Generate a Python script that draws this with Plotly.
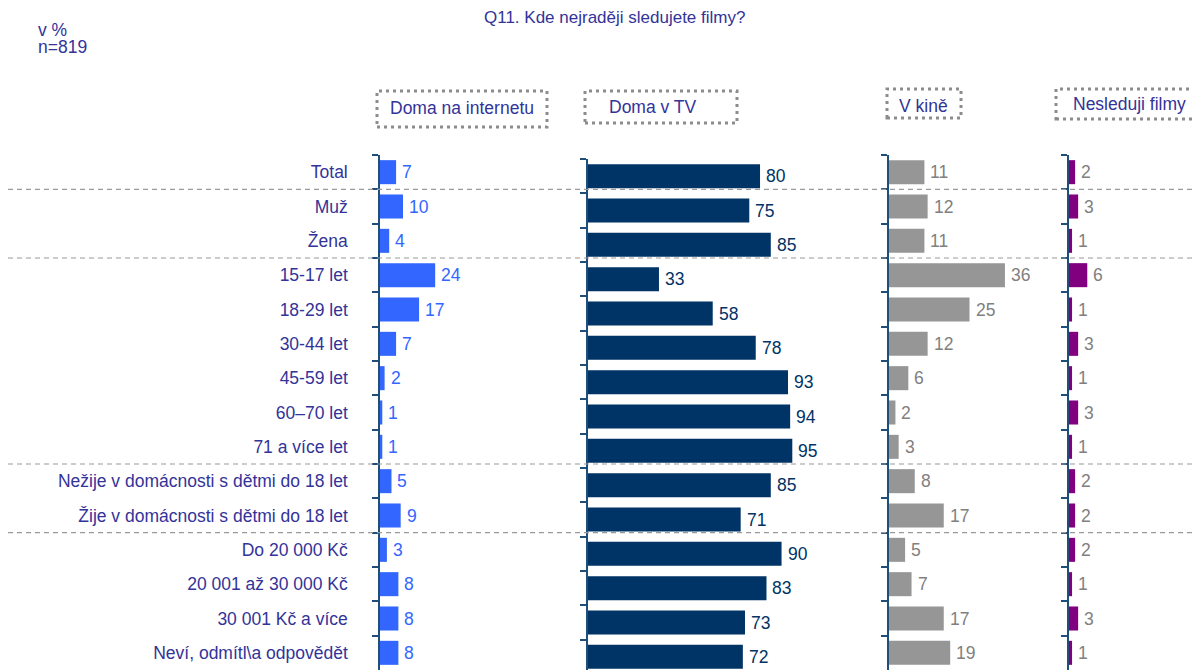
import plotly.graph_objects as go

# page offset: the browser page keeps an 8px body margin around the figure
OFF = 8
PAGE_W, PAGE_H = 1201, 670
W, H = PAGE_W - OFF, PAGE_H - OFF

categories = [
    "Total", "Muž", "Žena", "15-17 let", "18-29 let", "30-44 let", "45-59 let",
    "60–70 let", "71 a více let", "Nežije v domácnosti s dětmi do 18 let",
    "Žije v domácnosti s dětmi do 18 let", "Do 20 000 Kč", "20 001 až 30 000 Kč",
    "30 001 Kč a více", "Neví, odmítl\\a odpovědět",
]
series_names = ["Doma na internetu", "Doma v TV", "V kině", "Nesleduji filmy"]
internet = [7, 10, 4, 24, 17, 7, 2, 1, 1, 5, 9, 3, 8, 8, 8]
tv = [80, 75, 85, 33, 58, 78, 93, 94, 95, 85, 71, 90, 83, 73, 72]
kino = [11, 12, 11, 36, 25, 12, 6, 2, 3, 8, 17, 5, 7, 17, 19]
nesleduji = [2, 3, 1, 6, 1, 3, 1, 3, 1, 2, 2, 2, 1, 3, 1]
group_breaks = [0.5, 2.5, 8.5, 10.5]

title = "Q11. Kde nejraději sledujete filmy?"
note1 = "v %"
note2 = "n=819"

FONT = "Liberation Sans, Arial, sans-serif"
TXT = "#333399"
AXC = "#1F4E79"
FS = 17.5


def px(x):
    return (x - OFF) / W


def py(y):
    return 1 - (y - OFF) / H


panels = [
    dict(vals=internet, bar="#3366FF", lab="#3366FF", dom=(380, 580), rng=87.0,
         ytop=155, hx=(377, 547, 91, 127), tx=(388, 108)),
    dict(vals=tv, bar="#003366", lab="#003366", dom=(588, 868), rng=130.2,
         ytop=159, hx=(585, 737, 91, 123), tx=(607, 107)),
    dict(vals=kino, bar="#969696", lab="#808080", dom=(889, 1060), rng=53.1,
         ytop=155, hx=(887, 961, 89, 118), tx=(897, 106)),
    dict(vals=nesleduji, bar="#800080", lab="#808080", dom=(1069, PAGE_W), rng=43.3,
         ytop=155, hx=(1056, 1230, 89, 119), tx=(1071, 104)),
]

fig = go.Figure()
layout = dict(
    width=W, height=H, margin=dict(l=0, r=0, t=0, b=0),
    paper_bgcolor="white", plot_bgcolor="white", showlegend=False,
    font=dict(family=FONT, size=FS, color=TXT),
)
annotations = []
shapes = []
step = (PAGE_H - 155) / 15.0

for i, p in enumerate(panels):
    s = "" if i == 0 else str(i + 1)
    xa, ya = "x" + s, "y" + s
    fig.add_trace(go.Bar(
        x=p["vals"], y=categories, orientation="h", xaxis=xa, yaxis=ya,
        width=0.7, marker=dict(color=p["bar"], line=dict(width=0)),
        name=series_names[i], hoverinfo="x+y",
    ))
    layout["xaxis" + s] = dict(
        domain=[px(p["dom"][0]), min(1.0, px(p["dom"][1]))], range=[0, p["rng"]],
        anchor=ya, visible=False, fixedrange=True,
    )
    nrows = (PAGE_H - p["ytop"]) / step
    layout["yaxis" + s] = dict(
        domain=[0, py(p["ytop"])], anchor=xa, type="category",
        categoryorder="array", categoryarray=categories,
        range=[nrows - 0.5, -0.5],
        showline=True, linecolor=AXC, linewidth=1.5,
        ticks="outside", tickson="boundaries", ticklen=6, tickcolor=AXC, tickwidth=1.5,
        showgrid=False, zeroline=False, showticklabels=(i == 0),
        ticklabelstandoff=27, tickfont=dict(family=FONT, size=FS, color=TXT),
        fixedrange=True,
    )
    for c, v in zip(categories, p["vals"]):
        annotations.append(dict(
            x=v, y=c, xref=xa, yref=ya, text=str(v), showarrow=False,
            xanchor="left", yanchor="middle", xshift=4,
            font=dict(family=FONT, size=FS, color=p["lab"]),
        ))
    x0, x1, y0, y1 = p["hx"]
    shapes.append(dict(
        type="rect", xref="paper", yref="paper",
        x0=px(x0), x1=px(x1), y0=py(y1), y1=py(y0),
        line=dict(color="#8C8C8C", width=3, dash="3px,4px"),
        fillcolor="rgba(0,0,0,0)", layer="above",
    ))
    annotations.append(dict(
        x=px(p["tx"][0]), y=py(p["tx"][1]), xref="paper", yref="paper",
        text=series_names[i], showarrow=False, xanchor="left", yanchor="middle",
        font=dict(family=FONT, size=FS, color=TXT),
    ))

for b in group_breaks:
    shapes.append(dict(
        type="line", xref="paper", yref="y", x0=0, x1=1, y0=b, y1=b,
        line=dict(color="#9A9A9A", width=1.2, dash="5px,4px"), layer="above",
    ))

annotations += [
    dict(x=px(614), y=py(18), xref="paper", yref="paper", text=title,
         showarrow=False, xanchor="center", yanchor="middle",
         font=dict(family=FONT, size=17, color=TXT)),
    dict(x=px(36), y=py(30), xref="paper", yref="paper", text=note1,
         showarrow=False, xanchor="left", yanchor="middle",
         font=dict(family=FONT, size=FS, color=TXT)),
    dict(x=px(36), y=py(47), xref="paper", yref="paper", text=note2,
         showarrow=False, xanchor="left", yanchor="middle",
         font=dict(family=FONT, size=FS, color=TXT)),
]

layout["annotations"] = annotations
layout["shapes"] = shapes
fig.update_layout(**layout)
fig.write_html("out.html")
